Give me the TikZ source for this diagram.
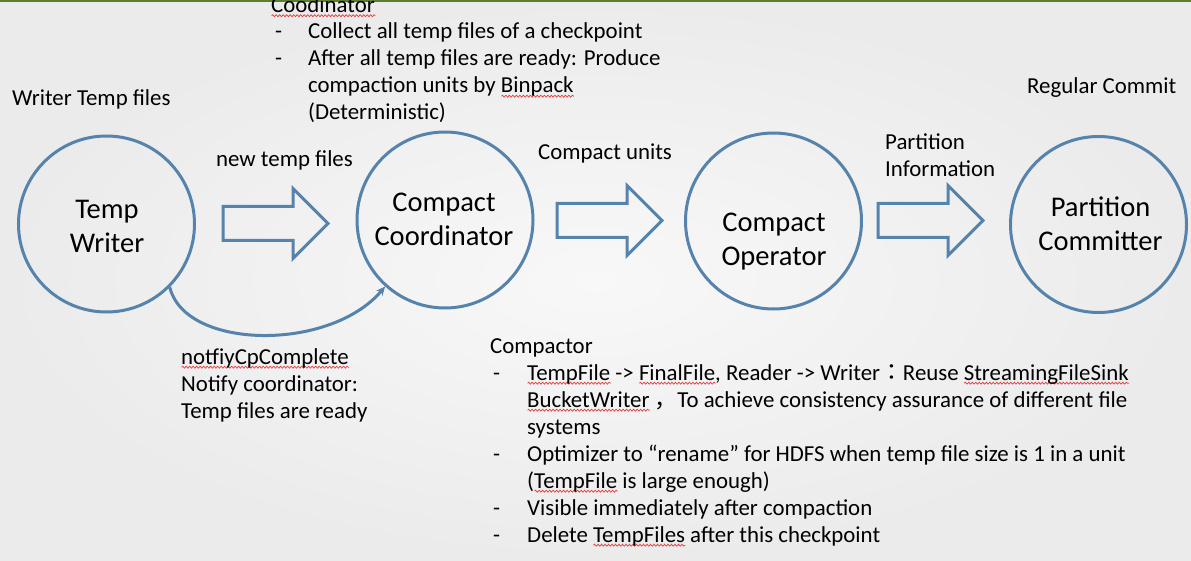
\documentclass[tikz,border=0pt]{standalone}
\usepackage{fontspec}
\setmainfont{Carlito}
\newfontfamily\cjk{Noto Sans CJK SC}
\newfontfamily\cjktc{Noto Sans CJK TC}
\usetikzlibrary{arrows.meta,decorations.pathmorphing}
\definecolor{cblue}{RGB}{86,131,171}
\definecolor{topgreen}{RGB}{94,125,46}
\definecolor{bginner}{RGB}{248,248,248}
\definecolor{bgouter}{RGB}{235,235,235}
\definecolor{sqred}{RGB}{226,60,60}
\newlength\sqlen
\newcommand\sq[1]{\settowidth{\sqlen}{#1}\rlap{\tikz[x=1pt,y=1pt,baseline=0pt]\draw[sqred,line width=0.7pt,decorate,decoration={snake,amplitude=1pt,segment length=3.5pt}] (0,-3.2) -- (\sqlen,-3.2);}#1}
\tikzset{
  circ/.style={circle, draw=cblue, line width=3pt, minimum size=176pt, inner sep=0pt},
  ctxt/.style={anchor=base, inner sep=0pt, font=\fontsize{28.5}{34}\selectfont},
  txt/.style={anchor=base west, inner sep=0pt, font=\fontsize{22.85}{27}\selectfont},
  arrowline/.style={draw=cblue, line width=3pt, line join=miter},
  conn/.style={draw=cblue, line width=3pt},
  barrow/.pic={\path[arrowline] (0,-17)--(70,-17)--(70,-35)--(105,0)--(70,35)--(70,17)--(0,17)--cycle;}
}
\begin{document}
\begin{tikzpicture}[x=1pt,y=-1pt]
\useasboundingbox (0,0) rectangle (1191,561);
\shade[inner color=bginner, outer color=bgouter] (0,0) rectangle (1191,561);
\fill[topgreen] (0,0) rectangle (1191,2.5);

% circles
\node[circ] (tw) at (106.5,224) {};
\node[circ] (cc) at (445,220) {};
\node[circ] (co) at (773.5,221) {};
\node[circ] (pc) at (1098.5,224.5) {};

% circle texts
\node[ctxt] (tw1) at (107,219) {Temp};
\node[ctxt] (tw2) at (107,252.5) {Writer};
\node[ctxt] (cc1) at (444,212) {Compact};
\node[ctxt] (cc2) at (444,246) {Coordinator};
\node[ctxt] (co1) at (774,232) {Compact};
\node[ctxt] (co2) at (774,266) {Operator};
\node[ctxt] (pc1) at (1100.5,217) {Partition};
\node[ctxt] (pc2) at (1100.5,251) {Committer};

% block arrows
\pic at (223,223.5) {barrow};
\pic at (557,220.5) {barrow};
\pic at (878,220.5) {barrow};

% feedback connector
\draw[conn, -{Stealth[length=9pt,width=8pt]}] (tw.-45) .. controls (185,350) and (330,352) .. (cc.-132);

% labels
\node[txt] (l1) at (12,106) {Writer Temp files};
\node[txt] (l2) at (216,167) {new temp files};
\node[txt] (l3) at (538,160) {Compact units};
\node[txt] (l4) at (885,150) {Partition};
\node[txt] (l5) at (885,177) {Information};
\node[txt] (l6) at (1027,94) {Regular Commit};
\node[txt] (n1) at (181,364) {\sq{notfiyCpComplete}};
\node[txt] (n2) at (181,391) {Notify coordinator:};
\node[txt] (n3) at (181,418) {Temp files are ready};

% coordinator notes
\node[txt] (k0) at (271,12.5) {\sq{Coodinator}};
\node[txt] (k1d) at (275,39) {-};
\node[txt] (k1) at (308,39) {Collect all temp files of a checkpoint};
\node[txt] (k2d) at (275,66) {-};
\node[txt] (k2) at (308,66) {After all temp files are ready: Produce};
\node[txt] (k3) at (308,93) {compaction units by \sq{Binpack}};
\node[txt] (k4) at (308,120) {(Deterministic)};

% compactor notes
\node[txt] (m0) at (490,353) {Compactor};
\node[txt] (m1d) at (493,380) {-};
\node[txt] (m1) at (527,380) {\sq{TempFile} -> \sq{FinalFile}, Reader -> Writer{\cjktc ：}Reuse \sq{StreamingFileSink}};
\node[txt] (m2) at (527,407) {\sq{BucketWriter} {\cjk ，}To achieve consistency assurance of different file};
\node[txt] (m3) at (527,434) {systems};
\node[txt] (m4d) at (493,461) {-};
\node[txt] (m4) at (527,461) {Optimizer to “rename” for HDFS when temp file size is 1 in a unit};
\node[txt] (m5) at (527,488) {(\sq{TempFile} is large enough)};
\node[txt] (m6d) at (493,515) {-};
\node[txt] (m6) at (527,515) {Visible immediately after compaction};
\node[txt] (m7d) at (493,542) {-};
\node[txt] (m7) at (527,542) {Delete \sq{TempFiles} after this checkpoint};
\end{tikzpicture}
\end{document}
